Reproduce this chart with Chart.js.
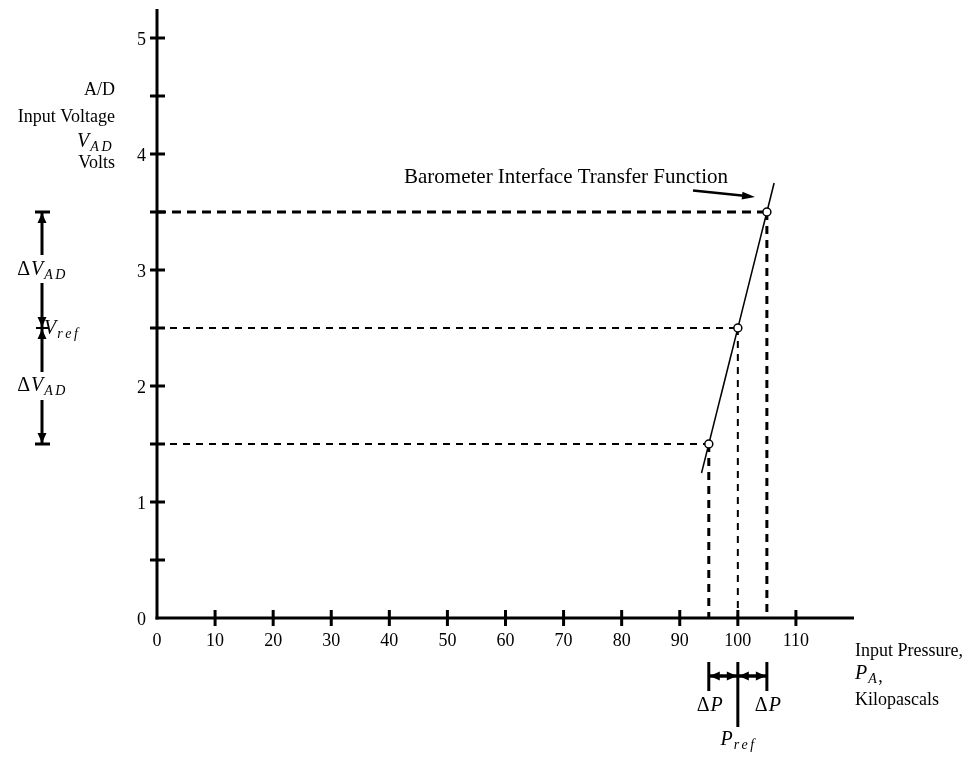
<!DOCTYPE html>
<html>
<head>
<meta charset="utf-8">
<script src="https://cdn.jsdelivr.net/npm/chart.js@4.4.0/dist/chart.umd.min.js"></script>
<style>
  html, body { margin: 0; padding: 0; background: #fff; }
  canvas { display: block; }
</style>
</head>
<body>
<canvas id="chart-area" width="969" height="760"></canvas>
<script>
// axis ticks
var xTicks = [0, 10, 20, 30, 40, 50, 60, 70, 80, 90, 100, 110];
var yTicks = [0, 1, 2, 3, 4, 5];
var yMinorTicks = [0.5, 1.5, 2.5, 3.5, 4.5];
var xMax = 120;
var yMax = 5.25;

// transfer function line (kPa, volts)
var lineP = [93.75, 106.25];
var lineV = [1.25, 3.75];

// reference points: Pref - dP, Pref, Pref + dP
var refP = [95, 100, 105];
var refV = [1.5, 2.5, 3.5];

var serif = '"Liberation Serif", "Times New Roman", serif';
var hWidths = [2, 2, 3];
var vWidths = [3, 2, 3];

var datasets = [];
datasets.push({
  label: 'points',
  data: refP.map(function(p, i) { return { x: p, y: refV[i] }; }),
  showLine: false,
  pointRadius: 4,
  pointBackgroundColor: '#fff',
  pointBorderColor: '#000',
  pointBorderWidth: 1.5
});
datasets.push({
  label: 'transfer',
  data: lineP.map(function(p, i) { return { x: p, y: lineV[i] }; }),
  showLine: true,
  borderColor: '#000',
  borderWidth: 1.5,
  pointRadius: 0
});
refP.forEach(function(p, i) {
  datasets.push({
    label: 'h' + i,
    data: [{ x: 0, y: refV[i] }, { x: p, y: refV[i] }],
    showLine: true,
    borderColor: '#000',
    borderWidth: hWidths[i],
    borderDash: hWidths[i] > 2 ? [9, 6] : [7, 6],
    pointRadius: 0
  });
  datasets.push({
    label: 'v' + i,
    data: [{ x: p, y: refV[i] }, { x: p, y: 0 }],
    showLine: true,
    borderColor: '#000',
    borderWidth: vWidths[i],
    borderDash: vWidths[i] > 2 ? [8, 6] : [7, 6],
    pointRadius: 0
  });
});

// draws a run of text pieces: [text, style], style 'rm' | 'it' | 'sub'
function mathText(ctx, parts, x, y, align) {
  var fonts = {
    rm: '20px ' + serif,
    it: 'italic 20px ' + serif,
    sub: 'italic 14px ' + serif
  };
  var gap = 2.5;
  var total = 0;
  var widths = parts.map(function(pt) {
    ctx.font = fonts[pt[1]];
    var w = ctx.measureText(pt[0]).width;
    if (pt[1] === 'sub') w += pt[0].length * gap;
    if (pt[1] === 'rm') w += 1;
    total += w;
    return w;
  });
  var cx = x;
  if (align === 'center') cx = x - total / 2;
  if (align === 'right') cx = x - total;
  ctx.textAlign = 'left';
  ctx.textBaseline = 'middle';
  parts.forEach(function(pt, i) {
    ctx.font = fonts[pt[1]];
    if (pt[1] === 'sub') {
      var sx = cx + 1;
      for (var k = 0; k < pt[0].length; k++) {
        ctx.fillText(pt[0][k], sx, y + 5);
        sx += ctx.measureText(pt[0][k]).width + gap;
      }
    } else {
      ctx.fillText(pt[0], cx, y);
    }
    cx += widths[i];
  });
  return total;
}

function arrowHead(ctx, x, y, angle, len, half) {
  ctx.save();
  ctx.translate(x, y);
  ctx.rotate(angle);
  ctx.beginPath();
  ctx.moveTo(0, 0);
  ctx.lineTo(-len, -half);
  ctx.lineTo(-len, half);
  ctx.closePath();
  ctx.fill();
  ctx.restore();
}

function line(ctx, x1, y1, x2, y2, w) {
  ctx.lineWidth = w;
  ctx.beginPath();
  ctx.moveTo(x1, y1);
  ctx.lineTo(x2, y2);
  ctx.stroke();
}

var drawing = {
  id: 'drawing',
  afterDatasetsDraw: function(chart) {
    var ctx = chart.ctx;
    var xs = chart.scales.x, ys = chart.scales.y;
    var x0 = xs.getPixelForValue(0), y0 = ys.getPixelForValue(0);
    ctx.save();
    ctx.strokeStyle = '#000';
    ctx.fillStyle = '#000';
    ctx.lineCap = 'butt';

    // axes
    line(ctx, x0, y0 + 1.5, x0, ys.getPixelForValue(yMax), 3);
    line(ctx, x0 - 1.5, y0, xs.getPixelForValue(xMax), y0, 3);

    // y ticks and labels
    yTicks.concat(yMinorTicks).forEach(function(v) {
      if (v === 0) return;
      var py = ys.getPixelForValue(v);
      line(ctx, x0 - 7, py, x0 + 8, py, 3);
    });
    ctx.font = '18px ' + serif;
    ctx.textAlign = 'right';
    ctx.textBaseline = 'middle';
    yTicks.forEach(function(v) {
      ctx.fillText(String(v), x0 - 11, ys.getPixelForValue(v) + 2);
    });

    // x ticks and labels
    xTicks.forEach(function(v) {
      if (v === 0) return;
      var px = xs.getPixelForValue(v);
      line(ctx, px, y0 - 8, px, y0 + 8, 3);
    });
    ctx.textAlign = 'center';
    xTicks.forEach(function(v) {
      ctx.fillText(String(v), xs.getPixelForValue(v), y0 + 23);
    });

    // y axis title
    ctx.textAlign = 'right';
    ctx.fillText('A/D', 115, 90);
    ctx.fillText('Input Voltage', 115, 117);
    mathText(ctx, [['V', 'it'], ['AD', 'sub']], 113, 142, 'right');
    ctx.font = '18px ' + serif;
    ctx.textAlign = 'right';
    ctx.textBaseline = 'middle';
    ctx.fillText('Volts', 115, 163);

    // x axis title
    ctx.textAlign = 'left';
    ctx.fillText('Input Pressure,', 855, 651);
    var w = mathText(ctx, [['P', 'it'], ['A', 'sub']], 855, 674, 'left');
    ctx.font = '18px ' + serif;
    ctx.textAlign = 'left';
    ctx.textBaseline = 'middle';
    ctx.fillText(',', 855 + w, 677);
    ctx.fillText('Kilopascals', 855, 700);

    // function label with arrow
    ctx.font = '21px ' + serif;
    ctx.textBaseline = 'alphabetic';
    ctx.fillText('Barometer Interface Transfer Function', 404, 183);
    var ax1 = 693, ay1 = 190.5, ax2 = 755, ay2 = 197;
    line(ctx, ax1, ay1, ax2 - 6, ay2 - 0.7, 2.5);
    arrowHead(ctx, ax2, ay2, Math.atan2(ay2 - ay1, ax2 - ax1), 13, 4);

    // delta V bracket on the left
    var bx = 42;
    var yT = ys.getPixelForValue(refV[2]);
    var yM = ys.getPixelForValue(refV[1]);
    var yB = ys.getPixelForValue(refV[0]);
    var yL1 = ys.getPixelForValue(3), yL2 = ys.getPixelForValue(2);
    line(ctx, bx, yT, bx, yL1 - 15, 3);
    line(ctx, bx, yL1 + 13, bx, yL2 - 14, 3);
    line(ctx, bx, yL2 + 14, bx, yB, 3);
    line(ctx, bx - 7, yT, bx + 8, yT, 3);
    line(ctx, bx - 7, yB, bx + 8, yB, 3);
    line(ctx, bx - 6, yM, bx + 6, yM, 2);
    arrowHead(ctx, bx, yT + 1, -Math.PI / 2, 10, 4.5);
    arrowHead(ctx, bx, yM - 1, Math.PI / 2, 10, 4.5);
    arrowHead(ctx, bx, yM + 1, -Math.PI / 2, 10, 4.5);
    arrowHead(ctx, bx, yB - 1, Math.PI / 2, 10, 4.5);
    mathText(ctx, [['\u0394', 'rm'], ['V', 'it'], ['AD', 'sub']], bx, yL1, 'center');
    mathText(ctx, [['\u0394', 'rm'], ['V', 'it'], ['AD', 'sub']], bx, yL2, 'center');
    mathText(ctx, [['V', 'it'], ['ref', 'sub']], bx + 2, yM + 1, 'left');

    // delta P bracket below
    var by = 676;
    var xL = xs.getPixelForValue(refP[0]);
    var xM = xs.getPixelForValue(refP[1]);
    var xR = xs.getPixelForValue(refP[2]);
    line(ctx, xL, 662, xL, 691, 3);
    line(ctx, xR, 662, xR, 691, 3);
    line(ctx, xM, 662, xM, 727, 3);
    line(ctx, xL, by, xR, by, 3.5);
    arrowHead(ctx, xL + 1, by, Math.PI, 10, 4.5);
    arrowHead(ctx, xM - 1, by, 0, 10, 4.5);
    arrowHead(ctx, xM + 1, by, Math.PI, 10, 4.5);
    arrowHead(ctx, xR - 1, by, 0, 10, 4.5);
    mathText(ctx, [['\u0394', 'rm'], ['P', 'it']], xL + 1, 706, 'center');
    mathText(ctx, [['\u0394', 'rm'], ['P', 'it']], xR + 1, 706, 'center');
    mathText(ctx, [['P', 'it'], ['ref', 'sub']], xM, 740, 'center');

    ctx.restore();
  }
};

var config = {
  type: 'scatter',
  data: { datasets: datasets },
  options: {
    responsive: false,
    animation: false,
    events: [],
    layout: { padding: { left: 157, right: 115, top: 9, bottom: 142 } },
    plugins: {
      legend: { display: false },
      tooltip: { enabled: false }
    },
    scales: {
      x: { type: 'linear', min: 0, max: xMax, display: false },
      y: { type: 'linear', min: 0, max: yMax, display: false }
    }
  },
  plugins: [drawing]
};

window.onload = function() {
  var ctx = document.getElementById('chart-area').getContext('2d');
  window.myChart = new Chart(ctx, config);
};
</script>
</body>
</html>
